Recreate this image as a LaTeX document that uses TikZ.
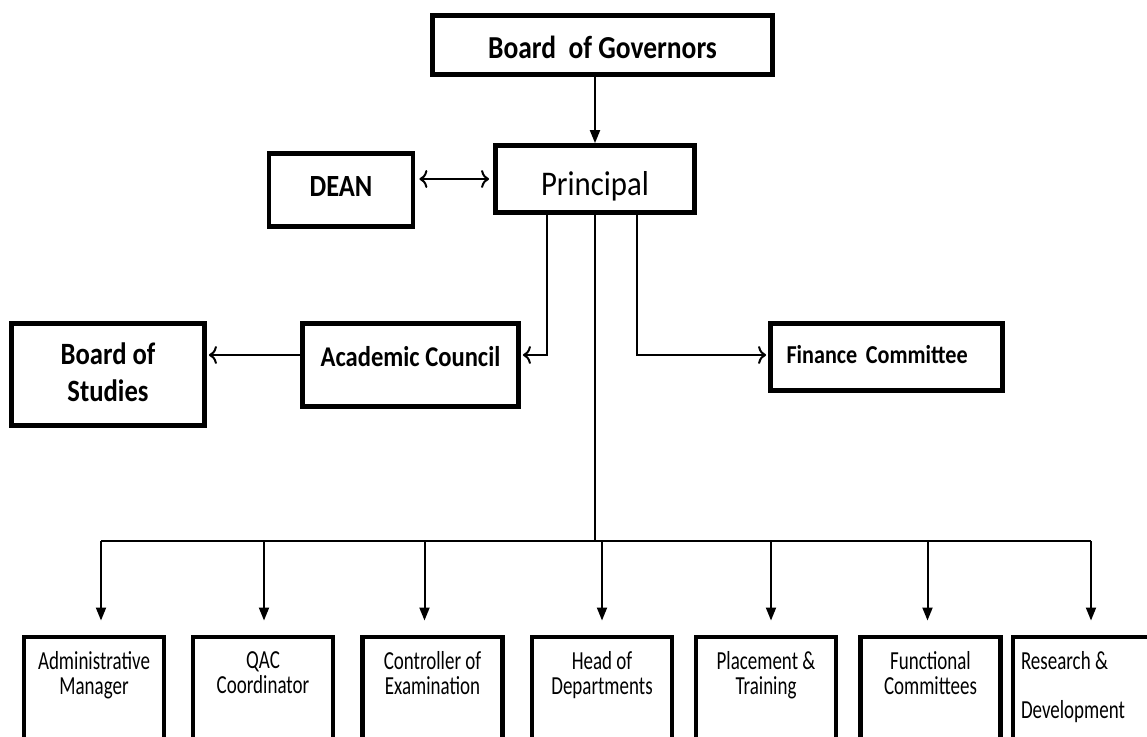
\documentclass[tikz,border=0pt]{standalone}
\usepackage{fontspec}
\setmainfont{Carlito}
\newfontfamily\condfont[FakeStretch=0.73]{Carlito}
\newfontfamily\bcond[FakeStretch=0.86]{Carlito}
\newfontfamily\pcond[FakeStretch=0.89]{Carlito}
\usetikzlibrary{arrows.meta}
\begin{document}
\begin{tikzpicture}[x=0.5pt,y=-0.5pt,
  box/.style={draw, line width=2.4pt, inner sep=0pt, align=center, fill=white},
  lower/.style={box, anchor=north, minimum width=70pt, inner ysep=7.5pt,
    font=\condfont\fontsize{13}{12.5}\selectfont},
  conn/.style={line width=1pt},
  tri/.style={conn, -{Triangle[width=5pt,length=6.5pt]}},
  opn/.style={conn, -{To[length=4pt,width=9pt]}},
]
\useasboundingbox (0,0) rectangle (1147,736);
\fill[white] (0,0) rectangle (1147,736);
\clip (0,0) rectangle (1147,736);

% top level
\node[box, minimum width=170pt, minimum height=29.5pt,
  font=\bcond\bfseries\fontsize{16}{18}\selectfont] (bog) at (602.5,45)
  {\raisebox{-6.5pt}[0pt][0pt]{Board\ \ of Governors}};
\node[box, minimum width=99.5pt, minimum height=33.5pt,
  font=\pcond\fontsize{17.3}{20}\selectfont] (pr) at (595,179)
  {\raisebox{-8pt}[0pt][0pt]{Principal}};
\node[box, minimum width=72pt, minimum height=36.5pt,
  font=\bcond\bfseries\fontsize{15.4}{18}\selectfont] (dean) at (341,190)
  {\raisebox{-3pt}[0pt][0pt]{DEAN}};

% middle level
\node[box, minimum width=108pt, minimum height=41.5pt,
  font=\bcond\bfseries\fontsize{14.3}{16}\selectfont] (ac) at (410.5,365)
  {\raisebox{-0.5pt}[0pt][0pt]{Academic Council}};
\node[box, minimum width=96.5pt, minimum height=51pt,
  font=\bcond\bfseries\fontsize{15.5}{18.5}\selectfont] (bos) at (108,374.5)
  {\raisebox{-4pt}[0pt][0pt]{Board of}\\[0pt]\raisebox{-4pt}[0pt][0pt]{Studies}};
\node[box, minimum width=116pt, minimum height=33.5pt, text width=100pt, align=left,
  inner xsep=8pt, font=\bcond\bfseries\fontsize{12.9}{15}\selectfont] (fc) at (886.5,357)
  {\raisebox{-3pt}[0pt][0pt]{Finance Committee}};

% bottom level
\node[lower] (b1) at (94,634.5)   {\parbox[t][60pt][t]{68pt}{\centering Administrative\\Manager}};
\node[lower] (b2) at (263,634.5)  {\parbox[t][60pt][t]{68pt}{\centering QAC\\Coordinator}};
\node[lower] (b3) at (432.5,634.5){\parbox[t][60pt][t]{68pt}{\centering Controller of\\Examination}};
\node[lower] (b4) at (602,634.5)  {\parbox[t][60pt][t]{68pt}{\centering Head of\\Departments}};
\node[lower] (b5) at (766,634.5)  {\parbox[t][60pt][t]{68pt}{\centering Placement \&\\Training}};
\node[lower] (b6) at (930.5,634.5){\parbox[t][60pt][t]{68pt}{\centering Functional\\Committees}};
\node[lower] (b7) at (1083,634.5) {\parbox[t][60pt][t]{68pt}{\raggedright\leftskip=3pt Research \&\\[12pt]Development}};

% connectors
\draw[tri] (pr.north |- bog.south) -- (pr.north);
\draw[conn, {To[length=4pt,width=9pt]}-{To[length=4pt,width=9pt]}, shorten <=2pt, shorten >=2pt]
  (dean.east |- pr.west) -- (pr.west);
\draw[opn, shorten >=1pt] ([xshift=-24pt]pr.south) |- ([yshift=5pt]ac.east);
\draw[opn, shorten >=1pt] ([xshift=21pt]pr.south) |- ([yshift=1pt]fc.west);
\draw[opn, shorten >=1pt] ([yshift=5pt]ac.west) -- ([yshift=5pt]ac.west -| bos.east);

\coordinate (bus) at (595,541);
\draw[conn] (pr.south) -- (bus);
\draw[conn] ([xshift=3.5pt]b1.north |- bus) -- ([xshift=4pt]b7.north |- bus);
\foreach \n/\s in {b1/3.5,b2/0.5,b3/-4,b4/0,b5/2.5,b6/-1.5,b7/4}
  \draw[tri, shorten >=7pt] ([xshift=\s pt]\n.north |- bus) -- ([xshift=\s pt]\n.north);
\end{tikzpicture}
\end{document}
